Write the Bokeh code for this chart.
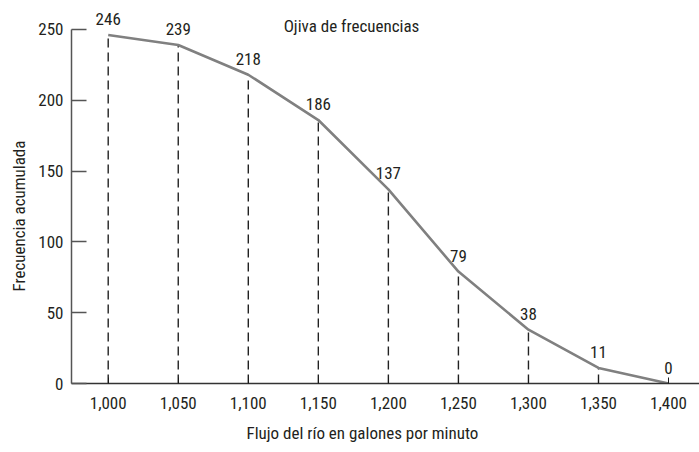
from bokeh.plotting import figure
from bokeh.models import Range1d, ColumnDataSource, LabelSet, FixedTicker, Title, Label
from bokeh.core.properties import value
from bokeh.embed import file_html
from bokeh.resources import INLINE

flow = [1000, 1050, 1100, 1150, 1200, 1250, 1300, 1350, 1400]
cum = [246, 239, 218, 186, 137, 79, 38, 11, 0]
x_tick_labels = ["1,000", "1,050", "1,100", "1,150", "1,200", "1,250", "1,300", "1,350", "1,400"]
y_ticks = [0, 50, 100, 150, 200, 250]
title_text = "Ojiva de frecuencias"
x_label = "Flujo del río en galones por minuto"
y_label = "Frecuencia acumulada"

FONT = "Roboto Condensed"
TXT = "#231f20"

src = ColumnDataSource(dict(x=flow, y=cum, lbl=[str(v) for v in cum], zero=[0] * len(flow)))

p = figure(width=699, height=452, output_backend="svg", toolbar_location=None,
           x_range=Range1d(973.8, 1422.1), y_range=Range1d(0, 270.4))
p.min_border_left = 70
p.min_border_right = 0
p.min_border_top = 0
p.min_border_bottom = 68
p.outline_line_color = None
p.grid.visible = False
p.background_fill_color = "white"
p.border_fill_color = "white"

p.segment(x0="x", y0="zero", x1="x", y1="y", source=src, line_color="#222222",
          line_width=1.4, line_dash="9 5")
p.line("x", "y", source=src, line_color="#808080", line_width=2.6)

labels = LabelSet(x="x", y="y", text="lbl", source=src, y_offset=10, text_align="center",
                  text_baseline="bottom", text_font=value(FONT), text_font_size=value("17px"),
                  text_color=TXT)
p.add_layout(labels)

xa = p.xaxis[0]
xa.ticker = FixedTicker(ticks=flow)
xa.major_label_overrides = {f: l for f, l in zip(flow, x_tick_labels)}
xa.major_tick_in = 6
xa.major_tick_out = 0
xa.minor_tick_line_color = None
xa.axis_line_color = "#333333"
xa.axis_line_width = 1.5
xa.major_tick_line_color = "#1a1a1a"
xa.major_label_standoff = 13
xa.major_label_text_font = FONT
xa.major_label_text_font_size = "17px"
xa.major_label_text_color = TXT

ya = p.yaxis[0]
ya.ticker = FixedTicker(ticks=y_ticks)
ya.bounds = (0, 250)
ya.major_tick_in = 15
ya.major_tick_out = 0
ya.minor_tick_line_color = None
ya.axis_line_color = "#555555"
ya.axis_line_width = 1.5
ya.major_tick_line_color = "#555555"
ya.major_tick_line_width = 1.5
ya.major_label_standoff = 8
ya.major_label_text_font = FONT
ya.major_label_text_font_size = "17px"
ya.major_label_text_color = TXT

yt = Title(text=y_label, align="left", offset=92, text_font=FONT, text_font_size="17px",
           text_font_style="normal", text_color=TXT, standoff=13)
p.add_layout(yt, "left")

p.add_layout(Label(x=280, y=358, x_units="screen", y_units="screen", text=title_text,
                   text_align="center", text_baseline="alphabetic", text_font=FONT,
                   text_font_size="17px", text_color=TXT))

xt = Title(text=x_label, align="left", offset=175, text_font=FONT, text_font_size="17px",
           text_font_style="normal", text_color=TXT, standoff=19)
p.add_layout(xt, "below")

open("out.html", "w").write(file_html(p, INLINE))
